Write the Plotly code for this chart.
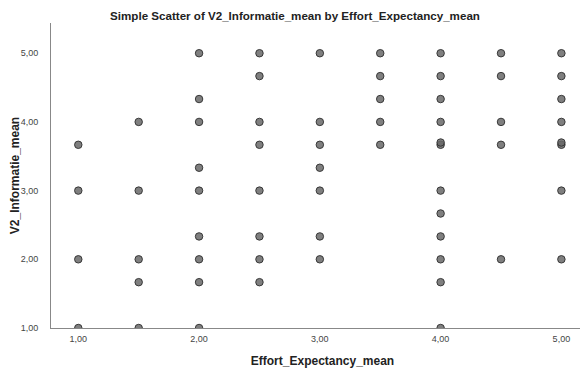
import plotly.graph_objects as go

# Effort_Expectancy_mean (x) and V2_Informatie_mean (y)
x_vals = [1.0]*4 + [1.5]*5 + [2.0]*9 + [2.5]*8 + [3.0]*7 + [3.5]*5 + [4.0]*12 + [4.5]*5 + [5.0]*8
y_vals = [
    3.667, 3.0, 2.0, 1.0,
    4.0, 3.0, 2.0, 1.667, 1.0,
    5.0, 4.333, 4.0, 3.333, 3.0, 2.333, 2.0, 1.667, 1.0,
    5.0, 4.667, 4.0, 3.667, 3.0, 2.333, 2.0, 1.667,
    5.0, 4.0, 3.667, 3.333, 3.0, 2.333, 2.0,
    5.0, 4.667, 4.333, 4.0, 3.667,
    5.0, 4.667, 4.333, 4.0, 3.667, 3.70, 3.0, 2.667, 2.333, 2.0, 1.667, 1.0,
    5.0, 4.667, 4.0, 3.667, 2.0,
    5.0, 4.667, 4.333, 4.0, 3.667, 3.70, 3.0, 2.0,
]
tick_vals = [1, 2, 3, 4, 5]
tick_text = ["1,00", "2,00", "3,00", "4,00", "5,00"]

fig = go.Figure(go.Scatter(
    x=x_vals, y=y_vals, mode="markers",
    marker=dict(size=7.5, color="rgba(105,105,105,0.85)",
                line=dict(color="rgba(45,45,45,0.9)", width=1)),
    cliponaxis=True, showlegend=False,
))

fig.update_layout(
    width=588, height=371,
    margin=dict(l=43, r=2, t=15, b=51),
    paper_bgcolor="white", plot_bgcolor="white",
    font=dict(family="Liberation Sans, Arial, sans-serif", color="#222"),
    title=dict(text="<b>Simple Scatter of V2_Informatie_mean by Effort_Expectancy_mean</b>",
               x=287/588, xref="container", y=1 - 8/371, yref="container",
               xanchor="center", yanchor="middle",
               font=dict(size=11.6, color="#222")),
)
fig.update_xaxes(
    range=[0.774, 5.27], tickvals=tick_vals, ticktext=tick_text, automargin=False,
    showgrid=False, zeroline=False, showline=True, linecolor="#888", linewidth=1,
    ticks="", tickfont=dict(size=9, color="#444"), ticklabelstandoff=2,
    title=dict(text="<b>Effort_Expectancy_mean</b>", font=dict(size=12, color="#222"), standoff=13),
)
fig.update_yaxes(
    range=[1.0, 5.44], tickvals=tick_vals, ticktext=tick_text, automargin=False,
    showgrid=False, zeroline=False, showline=True, linecolor="#888", linewidth=1,
    ticks="", tickfont=dict(size=9, color="#444"), ticklabelstandoff=10,
    title=dict(text="<b>V2_Informatie_mean</b>", font=dict(size=12, color="#222"), standoff=0),
)

fig.write_html("out.html")
